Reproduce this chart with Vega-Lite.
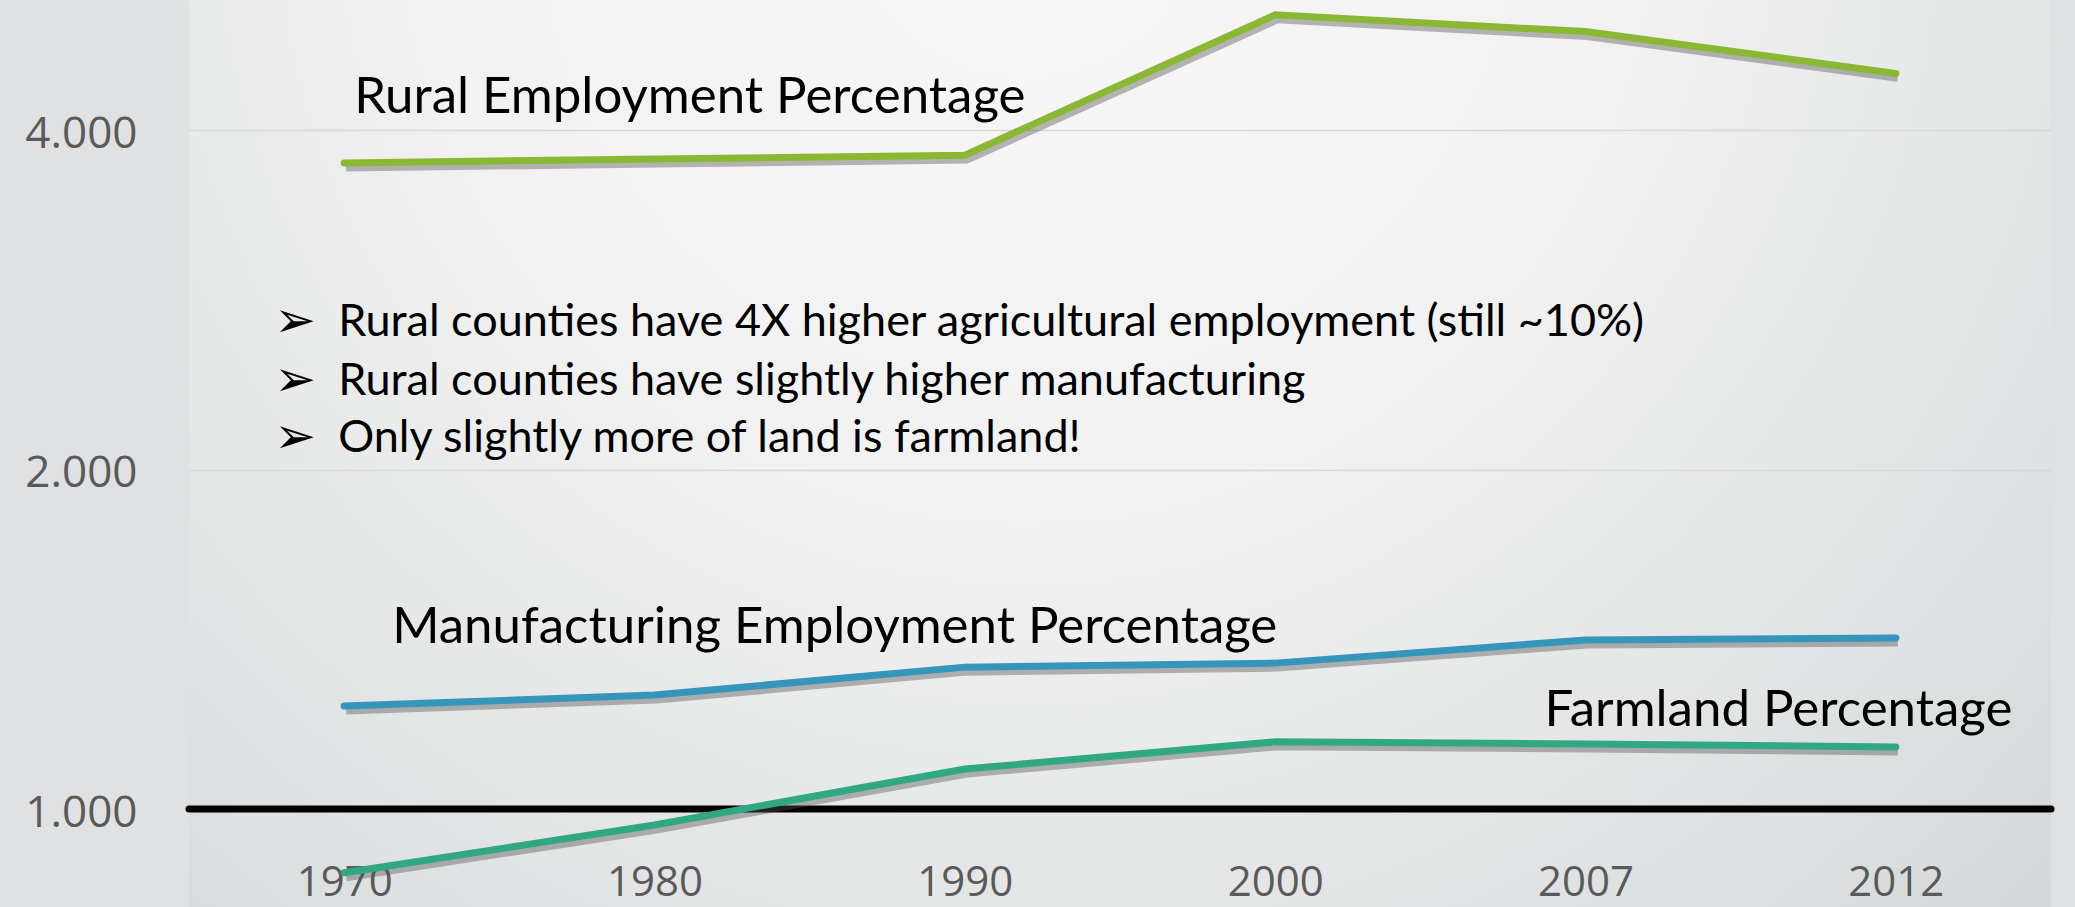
{
  "$schema": "https://vega.github.io/schema/vega-lite/v6.json",
  "width": 1862,
  "height": 907,
  "autosize": {"type": "none"},
  "padding": {"left": 189, "top": 0, "right": 24, "bottom": 0},
  "background": "#dfe1e2",
  "config": {
    "view": {
      "stroke": null,
      "fill": {
        "gradient": "radial",
        "x1": 0.45, "y1": 0.2, "r1": 0,
        "x2": 0.45, "y2": 0.2, "r2": 0.95,
        "stops": [
          {"offset": 0, "color": "#f8f8f8"},
          {"offset": 0.35, "color": "#f1f1f1"},
          {"offset": 0.7, "color": "#dcdfe0"},
          {"offset": 1, "color": "#c9cccd"}
        ]
      }
    },
    "text": {"font": "Lato"}
  },
  "datasets": {
    "series": [
      {"year": "1970", "series": "Rural Employment Percentage", "value": 3.74},
      {"year": "1980", "series": "Rural Employment Percentage", "value": 3.77},
      {"year": "1990", "series": "Rural Employment Percentage", "value": 3.80},
      {"year": "2000", "series": "Rural Employment Percentage", "value": 5.06},
      {"year": "2007", "series": "Rural Employment Percentage", "value": 4.89},
      {"year": "2012", "series": "Rural Employment Percentage", "value": 4.49},
      {"year": "1970", "series": "Manufacturing Employment Percentage", "value": 1.234},
      {"year": "1980", "series": "Manufacturing Employment Percentage", "value": 1.262},
      {"year": "1990", "series": "Manufacturing Employment Percentage", "value": 1.336},
      {"year": "2000", "series": "Manufacturing Employment Percentage", "value": 1.347},
      {"year": "2007", "series": "Manufacturing Employment Percentage", "value": 1.412},
      {"year": "2012", "series": "Manufacturing Employment Percentage", "value": 1.418},
      {"year": "1970", "series": "Farmland Percentage", "value": 0.878},
      {"year": "1980", "series": "Farmland Percentage", "value": 0.968},
      {"year": "1990", "series": "Farmland Percentage", "value": 1.085},
      {"year": "2000", "series": "Farmland Percentage", "value": 1.147},
      {"year": "2007", "series": "Farmland Percentage", "value": 1.142},
      {"year": "2012", "series": "Farmland Percentage", "value": 1.135}
    ],
    "notes": [
      {"id": "rural", "year": "1970", "value": 4.14, "text": "Rural Employment Percentage"},
      {"id": "manuf", "year": "1970", "value": 1.4035, "text": "Manufacturing Employment Percentage"},
      {"id": "farm", "year": "2007", "value": 1.1847, "text": "Farmland Percentage"}
    ],
    "bullets": [
      {"year": "1970", "value": 2.703, "bullet": "➢", "text": "Rural counties have 4X higher agricultural employment (still ~10%)"},
      {"year": "1970", "value": 2.396, "bullet": "➢", "text": "Rural counties have slightly higher manufacturing"},
      {"year": "1970", "value": 2.133, "bullet": "➢", "text": "Only slightly more of land is farmland!"}
    ],
    "baseline": [{"value": 1}]
  },
  "layer": [
    {
      "data": {"name": "baseline"},
      "mark": {"type": "rule", "color": "#000000", "strokeWidth": 7, "strokeCap": "round"},
      "encoding": {
        "y": {
          "field": "value", "type": "quantitative",
          "scale": {"type": "log", "base": 2, "domain": [0.8187, 5.216], "nice": false, "zero": false},
          "axis": {
            "values": [1, 2, 4],
            "format": ".3f",
            "title": null,
            "domain": false,
            "ticks": false,
            "tickSize": 0,
            "labelPadding": 52,
            "labelFontSize": 44,
            "labelFont": "Open Sans",
            "labelColor": "#5a5a5a",
            "labelBaseline": "middle",
            "labelOffset": 4,
            "grid": true,
            "gridColor": "#d6d8d9",
            "gridWidth": 1.5
          }
        }
      }
    },
    {
      "data": {"name": "series"},
      "mark": {"type": "line", "strokeWidth": 9, "color": "#505050", "opacity": 0.4, "yOffset": 4, "xOffset": 2},
      "encoding": {
        "x": {"field": "year", "type": "ordinal"},
        "y": {"field": "value", "type": "quantitative"},
        "detail": {"field": "series"}
      }
    },
    {
      "data": {"name": "series"},
      "mark": {"type": "line", "strokeWidth": 7, "strokeCap": "round"},
      "encoding": {
        "x": {
          "field": "year", "type": "ordinal",
          "scale": {"type": "point", "padding": 0.5},
          "axis": {
            "title": null,
            "domain": false,
            "ticks": false,
            "tickSize": 0,
            "grid": false,
            "labelAngle": 0,
            "labelAlign": "center",
            "labelFontSize": 42,
            "labelFont": "Open Sans",
            "labelColor": "#5a5a5a",
            "labelBaseline": "alphabetic",
            "labelPadding": -12
          }
        },
        "y": {"field": "value", "type": "quantitative"},
        "color": {
          "field": "series", "type": "nominal",
          "scale": {
            "domain": ["Rural Employment Percentage", "Manufacturing Employment Percentage", "Farmland Percentage"],
            "range": ["#8ab833", "#3595ba", "#31a884"]
          },
          "legend": null
        }
      }
    },
    {
      "data": {"name": "notes"},
      "transform": [{"filter": "datum.id === 'rural'"}],
      "mark": {"type": "text", "align": "left", "baseline": "alphabetic", "fontSize": 51, "color": "#000000", "dx": 10},
      "encoding": {
        "x": {"field": "year", "type": "ordinal"},
        "y": {"field": "value", "type": "quantitative"},
        "text": {"field": "text"}
      }
    },
    {
      "data": {"name": "notes"},
      "transform": [{"filter": "datum.id === 'manuf'"}],
      "mark": {"type": "text", "align": "left", "baseline": "alphabetic", "fontSize": 51, "color": "#000000", "dx": 48},
      "encoding": {
        "x": {"field": "year", "type": "ordinal"},
        "y": {"field": "value", "type": "quantitative"},
        "text": {"field": "text"}
      }
    },
    {
      "data": {"name": "notes"},
      "transform": [{"filter": "datum.id === 'farm'"}],
      "mark": {"type": "text", "align": "left", "baseline": "alphabetic", "fontSize": 51, "color": "#000000", "dx": -41},
      "encoding": {
        "x": {"field": "year", "type": "ordinal"},
        "y": {"field": "value", "type": "quantitative"},
        "text": {"field": "text"}
      }
    },
    {
      "data": {"name": "bullets"},
      "mark": {"type": "text", "align": "center", "baseline": "middle", "fontSize": 50, "font": "DejaVu Sans", "color": "#000000", "dx": -49},
      "encoding": {
        "x": {"field": "year", "type": "ordinal"},
        "y": {"field": "value", "type": "quantitative"},
        "text": {"field": "bullet"}
      }
    },
    {
      "data": {"name": "bullets"},
      "mark": {"type": "text", "align": "left", "baseline": "middle", "fontSize": 45, "color": "#000000", "dx": -6},
      "encoding": {
        "x": {"field": "year", "type": "ordinal"},
        "y": {"field": "value", "type": "quantitative"},
        "text": {"field": "text"}
      }
    }
  ]
}
